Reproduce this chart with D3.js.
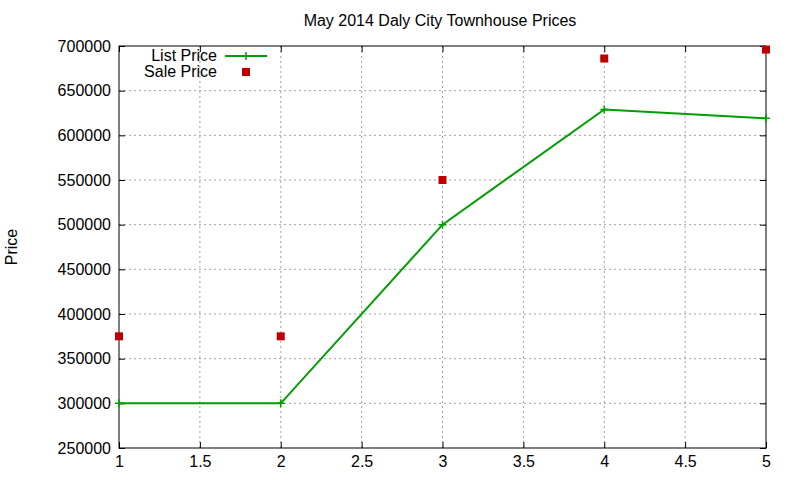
<!DOCTYPE html>
<html>
<head>
<meta charset="utf-8">
<style>
  body { margin: 0; background: #fff; }
  text { font-family: "Liberation Sans", Arial, sans-serif; }
</style>
</head>
<body>
<script src="https://cdn.jsdelivr.net/npm/d3@7"></script>
<script>
var xs = [1, 2, 3, 4, 5];
var listPrice = [300000, 300000, 500000, 629000, 619000];
var salePrice = [375000, 375000, 550000, 686000, 696000];
var xTicks = [1, 1.5, 2, 2.5, 3, 3.5, 4, 4.5, 5];
var yTicks = d3.range(250000, 700001, 50000);

var W = 800, H = 480;
var m = {left: 119, right: 34, top: 46, bottom: 32};

var svg = d3.select("body").append("svg").attr("width", W).attr("height", H);

var x = d3.scaleLinear().domain([1, 5]).range([m.left, W - m.right]);
var y = d3.scaleLinear().domain([250000, 700000]).range([H - m.bottom, m.top]);

// grid
svg.append("g").selectAll("line").data(xTicks.slice(1, -1)).enter().append("line")
    .attr("x1", d => x(d)).attr("x2", d => x(d))
    .attr("y1", m.top).attr("y2", H - m.bottom)
    .attr("stroke", "#a0a0a0").attr("stroke-dasharray", "2,3");
svg.append("g").selectAll("line").data(yTicks.slice(1, -1)).enter().append("line")
    .attr("x1", m.left).attr("x2", W - m.right)
    .attr("y1", d => y(d)).attr("y2", d => y(d))
    .attr("stroke", "#a0a0a0").attr("stroke-dasharray", "2,3");

// axes
svg.append("g").attr("transform", "translate(0," + (H - m.bottom) + ")")
    .call(d3.axisBottom(x).tickValues(xTicks).tickSize(-6).tickPadding(8).tickFormat(d3.format("")))
    .call(g => g.select(".domain").remove());
svg.append("g").attr("transform", "translate(0," + m.top + ")")
    .call(d3.axisTop(x).tickValues(xTicks).tickSize(-6).tickFormat(""))
    .call(g => g.select(".domain").remove());
svg.append("g").attr("transform", "translate(" + m.left + ",0)")
    .call(d3.axisLeft(y).tickValues(yTicks).tickSize(-6).tickPadding(8).tickFormat(d3.format("d")))
    .call(g => g.select(".domain").remove());
svg.append("g").attr("transform", "translate(" + (W - m.right) + ",0)")
    .call(d3.axisRight(y).tickValues(yTicks).tickSize(-6).tickFormat(""))
    .call(g => g.select(".domain").remove());
svg.selectAll(".tick text").attr("font-size", 16).attr("fill", "#000")
    .style("font-family", "Liberation Sans, Arial, sans-serif");

svg.append("rect").attr("x", m.left).attr("y", m.top)
    .attr("width", W - m.left - m.right).attr("height", H - m.top - m.bottom)
    .attr("fill", "none").attr("stroke", "#000");

// title and label
svg.append("text").attr("x", 440).attr("y", 26).attr("text-anchor", "middle")
    .attr("font-size", 16).text("May 2014 Daly City Townhouse Prices");
svg.append("text").attr("transform", "translate(17,247) rotate(-90)")
    .attr("text-anchor", "middle").attr("font-size", 16).text("Price");

var green = "#009e00", red = "#c00000";

var clip = svg.append("clipPath").attr("id", "c").append("rect")
    .attr("x", m.left).attr("y", m.top)
    .attr("width", W - m.left - m.right).attr("height", H - m.top - m.bottom);

var pts = xs.map((d, i) => [d, listPrice[i]]);
svg.append("path").datum(pts).attr("clip-path", "url(#c)")
    .attr("d", d3.line().x(d => x(d[0])).y(d => y(d[1])))
    .attr("fill", "none").attr("stroke", green).attr("stroke-width", 2);

function cross(g, cx, cy) {
    g.append("path").attr("d", "M" + (cx - 4) + "," + cy + "h8M" + cx + "," + (cy - 4) + "v8")
        .attr("stroke", green).attr("stroke-width", 1.5);
}
pts.forEach(d => cross(svg, x(d[0]), y(d[1])));

svg.selectAll("rect.sale").data(xs).enter().append("rect").attr("class", "sale")
    .attr("x", (d, i) => x(d) - 4).attr("y", (d, i) => y(salePrice[i]) - 4)
    .attr("width", 8).attr("height", 8).attr("fill", red);

// legend
svg.append("text").attr("x", 217).attr("y", 61).attr("text-anchor", "end")
    .attr("font-size", 16).text("List Price");
svg.append("line").attr("x1", 225).attr("x2", 267).attr("y1", 56).attr("y2", 56)
    .attr("stroke", green).attr("stroke-width", 2);
cross(svg, 246, 56);
svg.append("text").attr("x", 217).attr("y", 77).attr("text-anchor", "end")
    .attr("font-size", 16).text("Sale Price");
svg.append("rect").attr("x", 242).attr("y", 68).attr("width", 8).attr("height", 8).attr("fill", red);
</script>
</body>
</html>
